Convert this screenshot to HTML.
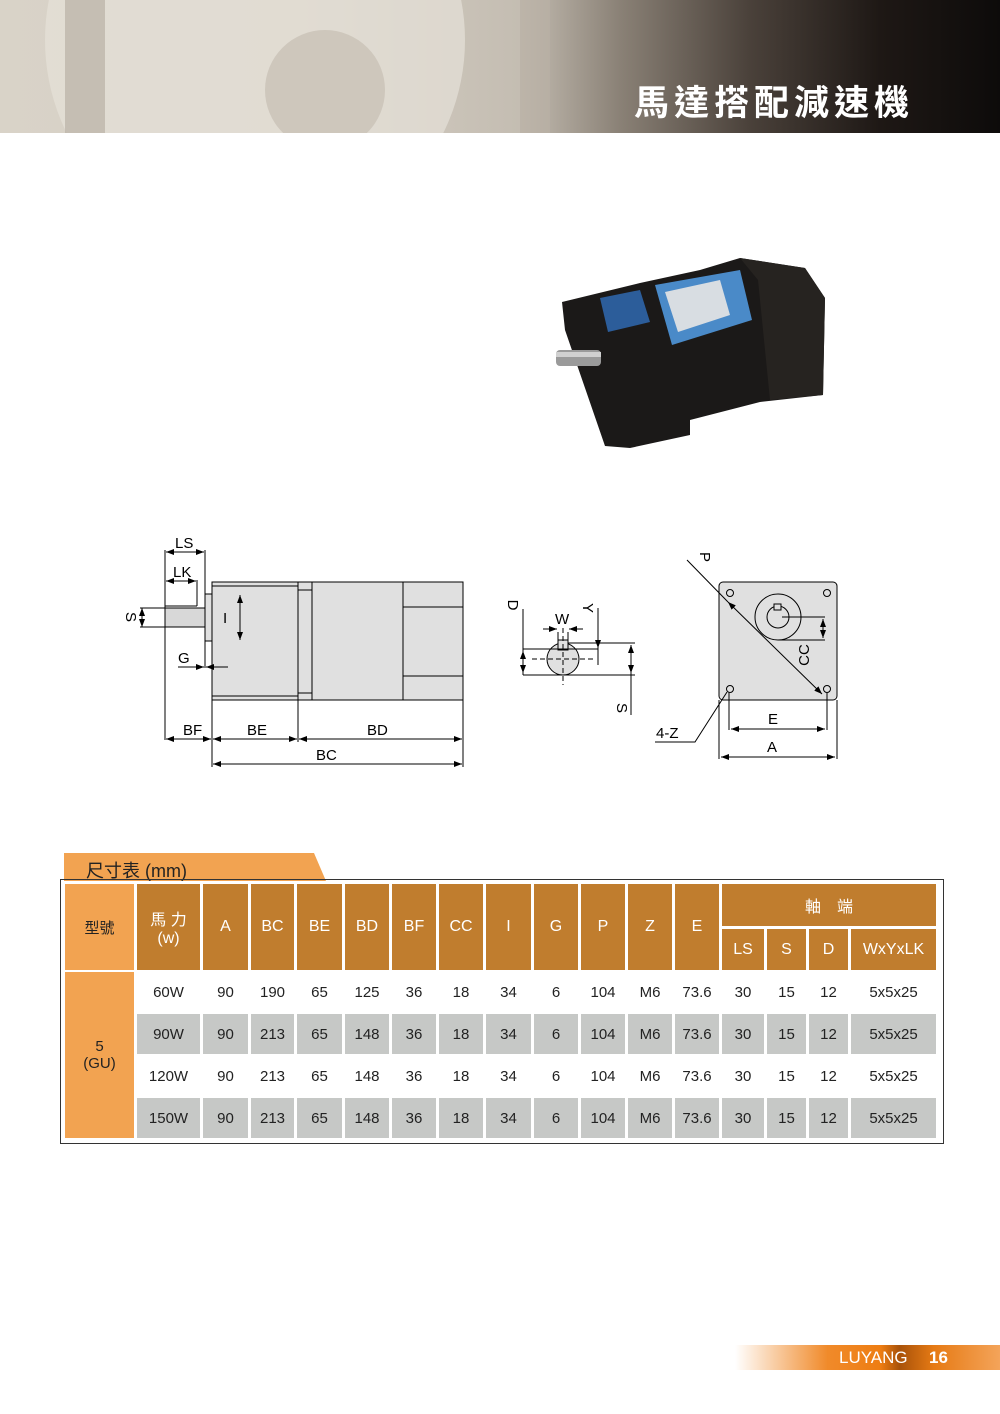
<!DOCTYPE html>
<html><head><meta charset="utf-8"><style>
body{margin:0;width:1000px;height:1414px;position:relative;background:#fff;font-family:"Liberation Sans","Noto Sans CJK TC",sans-serif;overflow:hidden}
.banner{position:absolute;left:0;top:0;width:1000px;height:133px;background:linear-gradient(90deg,#d9d3c8 0%,#d6cfc4 30%,#c4bdb2 52%,#8a8176 62%,#4a413a 75%,#1e1815 88%,#0d0b0a 100%)}
.c{position:absolute;display:flex;align-items:center;justify-content:center;text-align:center;font-size:15px;color:#222}
.h{background:#c07d2e;color:#fff;font-size:16px}
.o{background:#f2a351;color:#222}
.g{background:#c6c8c6}
.w{background:#fff}
</style></head><body>
<div class="banner"></div>
<svg style="position:absolute;left:0;top:0" width="1000" height="133">
<circle cx="255" cy="40" r="210" fill="#e6e1d8" opacity="0.7"/>
<circle cx="325" cy="90" r="60" fill="#c9c2b6" opacity="0.8"/>
<g fill="#b9b1a5" opacity="0.7"><rect x="65" y="0" width="40" height="133"/><rect x="520" y="0" width="30" height="133"/></g>
</svg>
<div style="position:absolute;left:634px;top:84px;font-size:35px;line-height:40px;font-weight:bold;color:#fff;letter-spacing:5px;white-space:nowrap;font-family:'Liberation Sans','Noto Sans CJK TC',sans-serif">馬達搭配減速機</div>

<svg style="position:absolute;left:0;top:0" width="1000" height="470">
<polygon points="562,302 640,283 700,270 740,258 805,268 825,298 823,395 760,402 690,420 690,435 630,448 605,446 565,330" fill="#1b1918"/>
<polygon points="600,298 640,290 650,322 608,332" fill="#2c5d9a"/>
<polygon points="655,285 740,270 752,320 672,345" fill="#4a8ac8"/>
<polygon points="665,292 720,280 730,315 678,332" fill="#d8dde2"/>
<polygon points="740,258 805,268 825,298 823,395 770,400 758,280" fill="#262320"/>
<rect x="556" y="350" width="45" height="16" rx="4" fill="#9a9a9a"/>
<rect x="556" y="352" width="45" height="5" fill="#d0d0d0"/>
</svg>

<svg style="position:absolute;left:0;top:0" width="1000" height="800" font-family="Liberation Sans,sans-serif" font-size="15" fill="none" stroke="#000" stroke-width="1">
<defs><marker id="a" markerWidth="8" markerHeight="6" refX="8" refY="3" orient="auto-start-reverse"><path d="M0,0L8,3L0,6z" fill="#000" stroke="none"/></marker></defs>
<rect x="212" y="582" width="251" height="118" fill="#e0e0e0"/>
<line x1="212" y1="586" x2="298" y2="586"/><line x1="212" y1="696" x2="298" y2="696"/>
<rect x="298" y="582" width="14" height="118" fill="#e0e0e0"/>
<line x1="298" y1="590" x2="312" y2="590"/><line x1="298" y1="693" x2="312" y2="693"/>
<line x1="403" y1="582" x2="403" y2="700"/>
<line x1="403" y1="607" x2="463" y2="607"/><line x1="403" y1="676" x2="463" y2="676"/>
<rect x="205" y="594" width="7" height="47" fill="#e0e0e0"/>
<rect x="165" y="608" width="40" height="19" fill="#d8d8d8"/>
<line x1="165" y1="606" x2="197" y2="606"/>
<line x1="165" y1="550" x2="165" y2="740"/><line x1="205" y1="550" x2="205" y2="668"/>
<line x1="197" y1="580" x2="197" y2="606"/>
<line x1="212" y1="700" x2="212" y2="767"/><line x1="298" y1="700" x2="298" y2="742"/><line x1="463" y1="700" x2="463" y2="767"/>
<line x1="166" y1="552" x2="204" y2="552" marker-start="url(#a)" marker-end="url(#a)"/>
<line x1="166" y1="581" x2="196" y2="581" marker-start="url(#a)" marker-end="url(#a)"/>
<line x1="142" y1="608" x2="142" y2="627" marker-start="url(#a)" marker-end="url(#a)"/>
<line x1="140" y1="608" x2="165" y2="608"/><line x1="140" y1="627" x2="165" y2="627"/>
<line x1="240" y1="595" x2="240" y2="640" marker-start="url(#a)" marker-end="url(#a)"/>
<line x1="178" y1="667" x2="204" y2="667" marker-end="url(#a)"/><line x1="228" y1="667" x2="206" y2="667" marker-end="url(#a)"/>
<line x1="166" y1="739" x2="211" y2="739" marker-start="url(#a)" marker-end="url(#a)"/>
<line x1="213" y1="739" x2="297" y2="739" marker-start="url(#a)" marker-end="url(#a)"/>
<line x1="299" y1="739" x2="462" y2="739" marker-start="url(#a)" marker-end="url(#a)"/>
<line x1="213" y1="764" x2="462" y2="764" marker-start="url(#a)" marker-end="url(#a)"/>
<circle cx="563" cy="659" r="16" fill="#e0e0e0"/>
<rect x="558" y="640" width="10" height="10" fill="#e0e0e0"/>
<line x1="563" y1="628" x2="563" y2="685" stroke-dasharray="5,3"/>
<line x1="532" y1="659" x2="594" y2="659" stroke-dasharray="5,3"/>
<line x1="523" y1="609" x2="523" y2="675"/><line x1="523" y1="649" x2="598" y2="649"/><line x1="523" y1="675" x2="635" y2="675"/>
<line x1="568" y1="643" x2="635" y2="643"/><line x1="598" y1="608" x2="598" y2="665"/>
<line x1="558" y1="632" x2="558" y2="640"/><line x1="568" y1="632" x2="568" y2="640"/>
<line x1="543" y1="629" x2="557" y2="629" marker-end="url(#a)"/><line x1="583" y1="629" x2="569" y2="629" marker-end="url(#a)"/>
<line x1="523" y1="651" x2="523" y2="673" marker-start="url(#a)" marker-end="url(#a)"/>
<line x1="598" y1="632" x2="598" y2="648" marker-end="url(#a)"/>
<line x1="631" y1="645" x2="631" y2="673" marker-start="url(#a)" marker-end="url(#a)"/>
<line x1="631" y1="673" x2="631" y2="715"/>
<rect x="719" y="582" width="118" height="118" rx="4" fill="#e0e0e0"/>
<circle cx="730" cy="593" r="3.5"/><circle cx="827" cy="593" r="3.5"/><circle cx="730" cy="689" r="3.5"/><circle cx="827" cy="689" r="3.5"/>
<circle cx="778" cy="617" r="23"/><circle cx="778" cy="617" r="11"/>
<rect x="774" y="604" width="7" height="6" fill="#e0e0e0"/>
<line x1="782" y1="617" x2="825" y2="617"/><line x1="778" y1="640" x2="825" y2="640"/>
<line x1="823" y1="619" x2="823" y2="638" marker-start="url(#a)" marker-end="url(#a)"/>
<line x1="687" y1="560" x2="728" y2="602"/>
<line x1="728" y1="602" x2="822" y2="694" marker-start="url(#a)" marker-end="url(#a)"/>
<line x1="729" y1="693" x2="729" y2="730"/><line x1="827" y1="693" x2="827" y2="730"/>
<line x1="719" y1="700" x2="719" y2="759"/><line x1="837" y1="700" x2="837" y2="759"/>
<line x1="731" y1="729" x2="825" y2="729" marker-start="url(#a)" marker-end="url(#a)"/>
<line x1="721" y1="757" x2="835" y2="757" marker-start="url(#a)" marker-end="url(#a)"/>
<polyline points="655,742 695,742 727,692"/>
<g fill="#000" stroke="none">
<text x="175" y="548">LS</text><text x="173" y="577">LK</text><text x="178" y="663">G</text>
<text x="183" y="735">BF</text><text x="247" y="735">BE</text><text x="367" y="735">BD</text><text x="316" y="760">BC</text>
<text transform="translate(126,617) rotate(90)" text-anchor="middle">S</text>
<text x="223" y="623">I</text>
<text x="555" y="624">W</text>
<text transform="translate(508,605) rotate(90)" text-anchor="middle">D</text>
<text transform="translate(583,608) rotate(90)" text-anchor="middle">Y</text>
<text transform="translate(617,708) rotate(90)" text-anchor="middle">S</text>
<text transform="translate(700,557) rotate(90)" text-anchor="middle">P</text>
<text transform="translate(809,655) rotate(-90)" text-anchor="middle">CC</text>
<text x="768" y="724">E</text><text x="767" y="752">A</text><text x="656" y="738">4-Z</text>
</g>
</svg>

<div style="position:absolute;left:64px;top:853px;width:262px;height:28px;background:#f2a351;clip-path:polygon(0 0,250px 0,262px 28px,0 28px)"></div>
<div style="position:absolute;left:86px;top:857px;font-size:18px;color:#222">尺寸表 (mm)</div>
<div style="position:absolute;left:60px;top:879px;width:884px;height:265px;border:1.5px solid #333;box-sizing:border-box"></div>

<div class="c o" style="left:65px;top:884px;width:69px;height:86px">型號</div>
<div class="c o" style="left:65px;top:972px;width:69px;height:166px">5<br>(GU)</div>
<div class="c h" style="left:137px;top:884px;width:63px;height:86px">馬 力<br>(w)</div>
<div class="c h" style="left:722px;top:884px;width:214px;height:42px">軸　端</div>
<div id="t"></div>
<script>
var cols=[[137,63],[203,45],[251,43],[297,45],[345,44],[392,44],[439,44],[486,45],[534,44],[581,44],[628,44],[675,44],[722,42],[767,39],[809,39],[851,85]];
var hd=[null,"A","BC","BE","BD","BF","CC","I","G","P","Z","E","LS","S","D","WxYxLK"];
var rows=[["60W","90","190","65","125","36","18","34","6","104","M6","73.6","30","15","12","5x5x25"],
["90W","90","213","65","148","36","18","34","6","104","M6","73.6","30","15","12","5x5x25"],
["120W","90","213","65","148","36","18","34","6","104","M6","73.6","30","15","12","5x5x25"],
["150W","90","213","65","148","36","18","34","6","104","M6","73.6","30","15","12","5x5x25"]];
var h="";
for(var i=1;i<16;i++){var c=cols[i];var ty=i>=12?929:884,ht=i>=12?41:86;
h+='<div class="c h" style="left:'+c[0]+'px;top:'+ty+'px;width:'+c[1]+'px;height:'+ht+'px">'+hd[i]+'</div>';}
for(var r=0;r<4;r++){var yy=972+r*42;for(var i=0;i<16;i++){var c=cols[i];
h+='<div class="c '+(r%2?'g':'w')+'" style="left:'+c[0]+'px;top:'+yy+'px;width:'+c[1]+'px;height:40px">'+rows[r][i]+'</div>';}}
document.getElementById('t').innerHTML=h;
</script>

<div style="position:absolute;left:735px;top:1345px;width:265px;height:25px;background:linear-gradient(90deg,rgba(240,130,30,0) 0%,#f08a2a 35%,#ee7d12 55%,#a8520a 62%,#e67a14 75%,#f4a45a 100%)"></div>
<div style="position:absolute;left:839px;top:1348px;font-size:17px;color:#fff">LUYANG</div>
<div style="position:absolute;left:929px;top:1348px;font-size:17px;color:#fff;font-weight:bold">16</div>
</body></html>
